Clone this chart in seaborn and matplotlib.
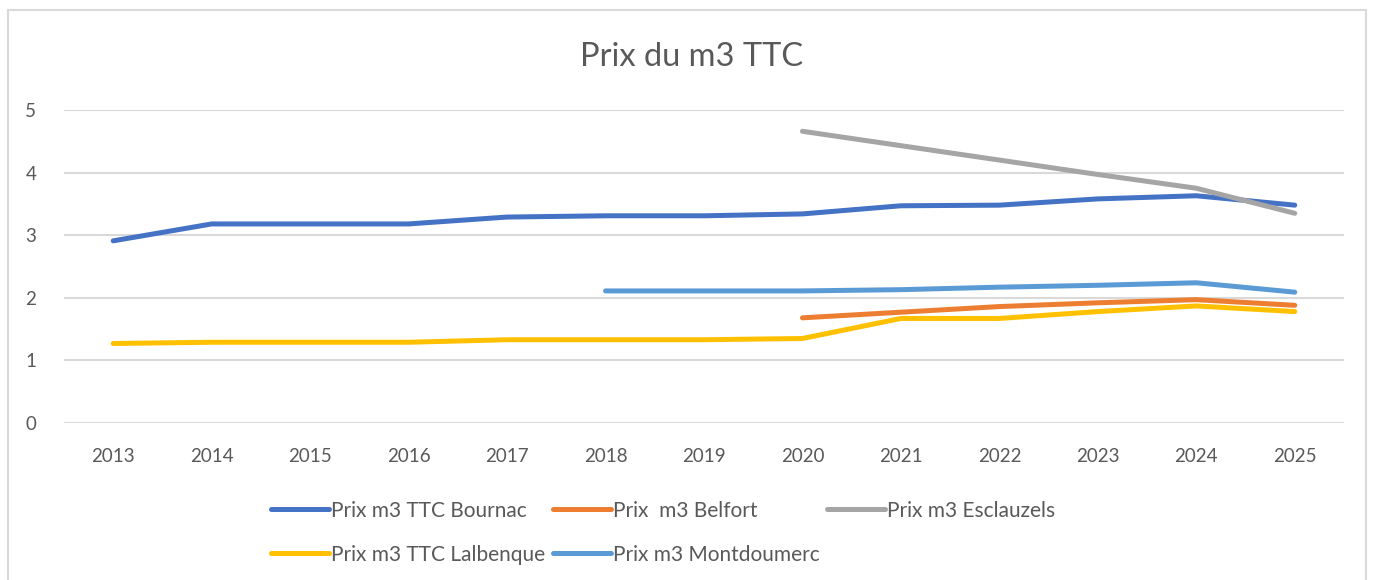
import matplotlib
matplotlib.use("Agg")
import matplotlib.pyplot as plt
import seaborn as sns
import pandas as pd
import numpy as np
from matplotlib.patches import Rectangle

years = list(range(2013, 2026))
bournac = [2.91, 3.18, 3.18, 3.18, 3.29, 3.31, 3.31, 3.34, 3.47, 3.48, 3.58, 3.63, 3.48]
belfort = [None] * 7 + [1.68, 1.77, 1.86, 1.92, 1.97, 1.88]
esclauzels = [None] * 7 + [4.66, 4.43, 4.20, 3.97, 3.75, 3.35]
lalbenque = [1.27, 1.29, 1.29, 1.29, 1.33, 1.33, 1.33, 1.35, 1.67, 1.67, 1.78, 1.87, 1.78]
montdoumerc = [None] * 5 + [2.11, 2.11, 2.11, 2.13, 2.17, 2.20, 2.24, 2.09]

names = ["Prix m3 TTC Bournac", "Prix  m3 Belfort", "Prix m3 Esclauzels",
         "Prix m3 TTC Lalbenque", "Prix m3 Montdoumerc"]
series = [bournac, belfort, esclauzels, lalbenque, montdoumerc]
colors = ["#4472C4", "#ED7D31", "#A5A5A5", "#FFC000", "#5B9BD5"]

rows = []
for n, s in zip(names, series):
    for y, v in zip(years, s):
        if v is not None:
            rows.append({"Année": y, "Prix": v, "Série": n})
df = pd.DataFrame(rows)

sns.set_theme(style="white")
plt.rcParams["font.family"] = ["Lato", "DejaVu Sans"]

fig = plt.figure(figsize=(13.74, 5.8), dpi=100)
fig.patches.append(Rectangle((8 / 1374, -0.05), 1358 / 1374, 1 - 10 / 580 + 0.05,
                             transform=fig.transFigure, fill=False,
                             edgecolor="#d9d9d9", linewidth=1.5))
ax = fig.add_axes([64 / 1374, 1 - 423 / 580, 1280 / 1374, (423 - 110) / 580])

sns.lineplot(data=df, x="Année", y="Prix", hue="Série", hue_order=names,
             palette=colors, linewidth=3.6, ax=ax, legend=True,
             solid_capstyle="round")

ax.set_xlim(2012.5, 2025.5)
ax.set_ylim(0, 5)
ax.set_xticks(years)
ax.set_xticklabels([str(y) for y in years])
ax.set_yticks(range(0, 6))
ax.yaxis.grid(True, color="#d9d9d9", linewidth=1.5)
ax.set_axisbelow(True)
for sp in ax.spines.values():
    sp.set_visible(False)
ax.tick_params(axis="both", length=0, labelsize=13.5, labelcolor="#595959")
ax.tick_params(axis="x", pad=18)
ax.tick_params(axis="y", pad=20)
ax.set_xlabel("")
ax.set_ylabel("")

fig.text(692 / 1374, 1 - 57 / 580, "Prix du m3 TTC", ha="center", va="center",
         fontsize=23.5, color="#595959")

handles, labels = ax.get_legend_handles_labels()
ax.legend_.remove()
order = [0, 3, 1, 4, 2]
leg = fig.legend([handles[i] for i in order], [labels[i] for i in order],
                 ncol=3, loc="upper left",
                 bbox_to_anchor=(252 / 1374, 1 - 482 / 580), frameon=False,
                 fontsize=15, handlelength=2.8, handletextpad=0.1,
                 columnspacing=0.35, labelspacing=1.15)
for t in leg.get_texts():
    t.set_color("#595959")
for l in leg.get_lines():
    l.set_linewidth(3.6)

fig.savefig("out.png", dpi=100, facecolor="white")
